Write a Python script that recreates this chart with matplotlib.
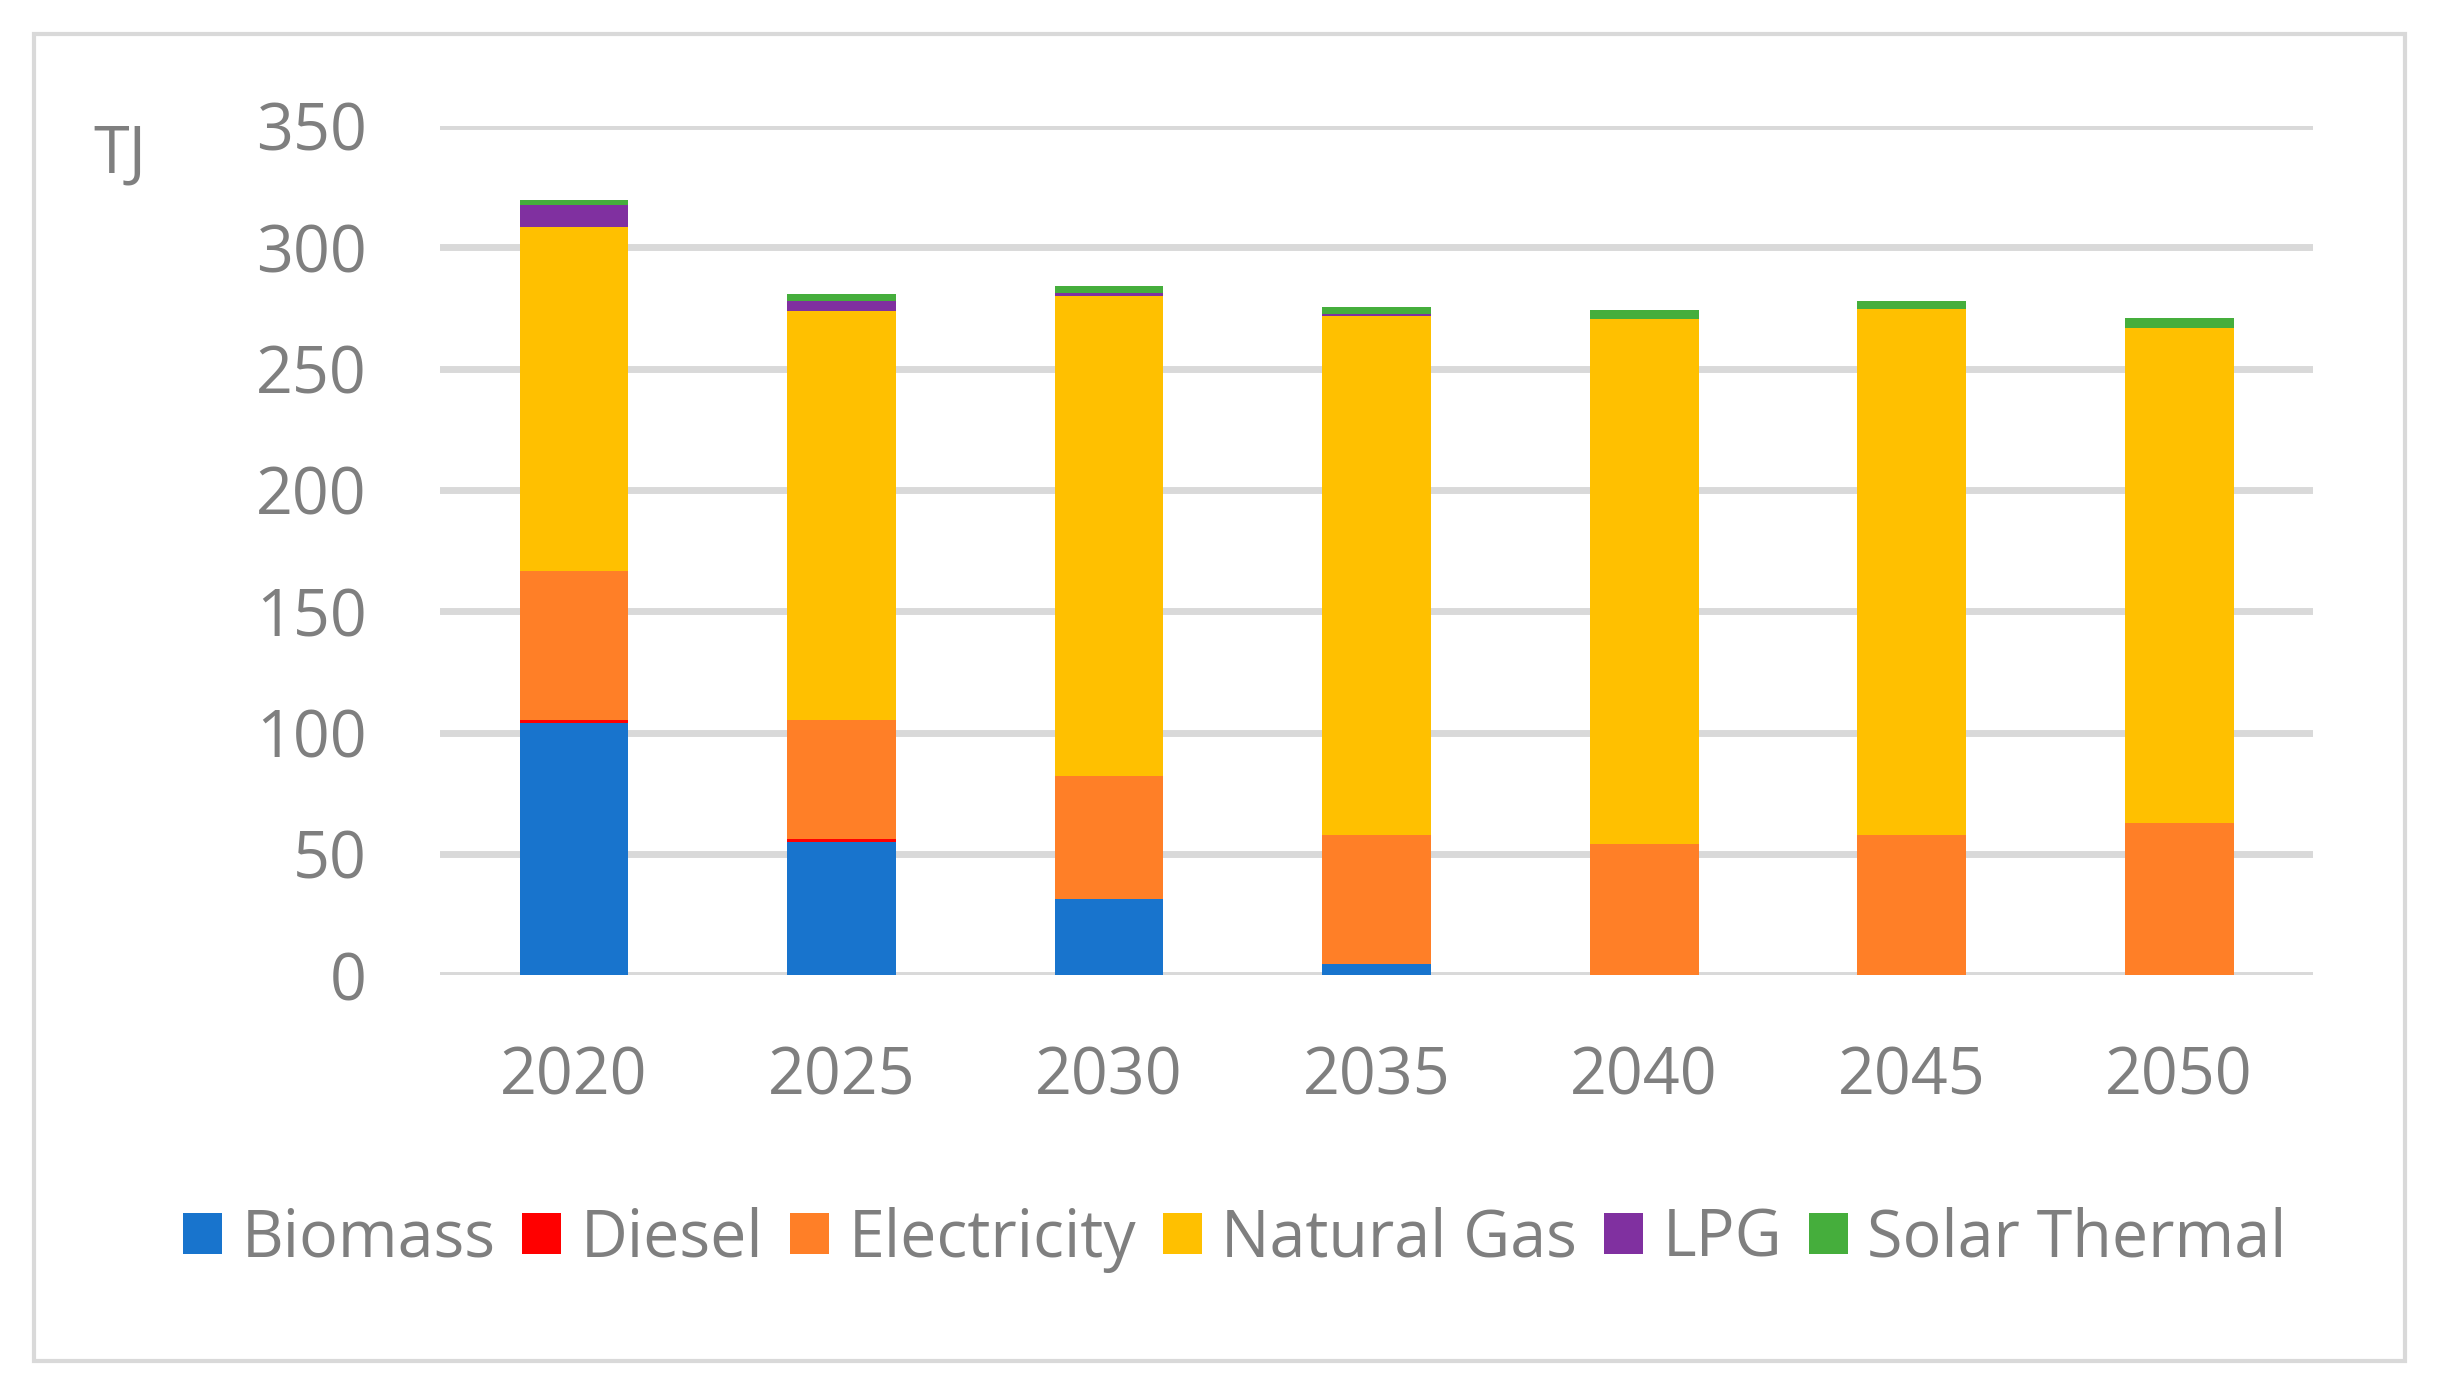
import matplotlib
matplotlib.use("Agg")
import matplotlib.pyplot as plt
import matplotlib.patches as mpatches
import numpy as np

years = ["2020", "2025", "2030", "2035", "2040", "2045", "2050"]
biomass = [104.0, 55.0, 31.5, 4.5, 0.0, 0.0, 0.0]
diesel = [1.2, 1.0, 0.0, 0.0, 0.0, 0.0, 0.0]
electricity = [61.3, 49.0, 50.5, 53.2, 54.0, 57.7, 62.8]
natural_gas = [141.8, 168.7, 198.0, 214.1, 216.5, 216.7, 203.9]
lpg = [9.2, 4.3, 1.2, 0.6, 0.0, 0.0, 0.0]
solar = [2.0, 2.8, 3.0, 2.8, 3.5, 3.6, 4.3]

series = [
    ("Biomass", biomass, "#1874CD"),
    ("Diesel", diesel, "#FF0000"),
    ("Electricity", electricity, "#FF7F27"),
    ("Natural Gas", natural_gas, "#FFC000"),
    ("LPG", lpg, "#8030A0"),
    ("Solar Thermal", solar, "#45AE3C"),
]

yticks = [0, 50, 100, 150, 200, 250, 300, 350]
text_color = "#7F7F7F"
grid_color = "#D9D9D9"
fs = 46.5

plt.rcParams['font.family'] = ['Open Sans', 'DejaVu Sans']

W, H = 2439, 1392
fig = plt.figure(figsize=(W / 100, H / 100), dpi=100)
ax = fig.add_axes([0.1805, 0.2994, 0.9483 - 0.1805, 0.9095 - 0.2994])

x = np.arange(len(years))
bottom = np.zeros(len(years))
handles = []
for name, vals, col in series:
    v = np.array(vals)
    b = ax.bar(x, v, width=0.407, bottom=bottom, color=col, label=name, zorder=3, linewidth=0)
    bottom += v
    handles.append(b)

ax.set_xlim(-0.5, len(years) - 0.5)
ax.set_ylim(0, 350)
ax.set_yticks(yticks)
ax.set_yticklabels([str(t) for t in yticks])
ax.set_xticks(x)
ax.set_xticklabels(years)
ax.grid(axis='y', color=grid_color, linewidth=5.0, zorder=0)
ax.set_axisbelow(True)
for s in ax.spines.values():
    s.set_visible(False)
ax.tick_params(axis='both', length=0, labelsize=fs, colors=text_color)
ax.tick_params(axis='x', pad=50)
ax.tick_params(axis='y', pad=53)
for lab in ax.get_yticklabels() + ax.get_xticklabels():
    lab.set_color(text_color)

fig.text(60 / 1568, 1 - 100 / 895, "TJ", fontsize=fs, color=text_color, ha='left', va='center')

leg = fig.legend(handles=handles, labels=[s[0] for s in series], loc='center',
                 bbox_to_anchor=(0.5 + 10 / 1568, 1 - 797 / 895), ncol=6, frameon=False,
                 fontsize=fs, handlelength=0.6, handleheight=0.6,
                 handletextpad=0.3, columnspacing=0.42, borderaxespad=0)
for t in leg.get_texts():
    t.set_color(text_color)

border = mpatches.Rectangle((22 / 1568, 1 - 875 / 895), (1546 - 22) / 1568, (875 - 22) / 895,
                            transform=fig.transFigure, fill=False, edgecolor=grid_color,
                            linewidth=3.0)
fig.patches.append(border)

fig.savefig("out.png", dpi=100, facecolor="white")
